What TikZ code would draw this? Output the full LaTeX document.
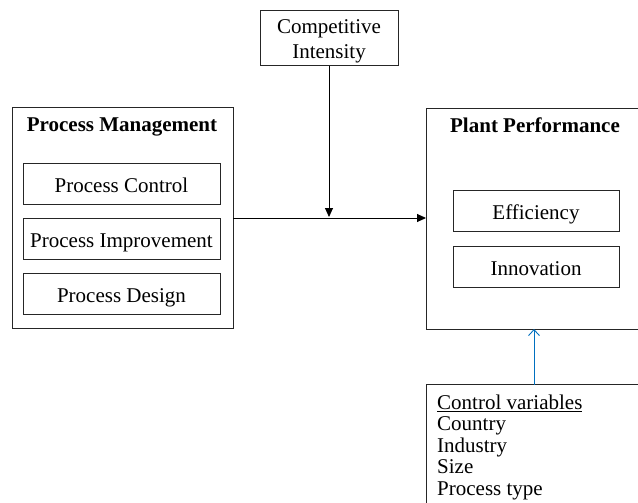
\documentclass[tikz,border=0pt]{standalone}
\usepackage{fontspec}
\setmainfont{Liberation Serif}
\usetikzlibrary{arrows.meta}
\definecolor{ctrlblue}{RGB}{0,112,192}
\tikzset{
  frame/.style={draw=black!85, line width=1pt, inner sep=0pt, outer sep=0pt},
  sub/.style={frame, minimum width=197pt, minimum height=41pt, text height=20pt, text depth=3pt},
  subr/.style={frame, minimum width=166pt, minimum height=41pt, text height=20pt, text depth=3pt},
  conn/.style={line width=0.9pt, -{Triangle[length=9pt,width=8pt]}},
  ctrl/.style={draw=ctrlblue, line width=0.9pt, -{Straight Barb[length=6pt,width=11pt]}},
}
\begin{document}
\begin{tikzpicture}[x=1pt,y=-1pt, font=\fontsize{21}{21.5}\selectfont]
\useasboundingbox (0,0) rectangle (638,503);
\clip (0,0) rectangle (638,503);
\fill[white] (0,0) rectangle (638,503);

% Process Management
\node[frame, minimum width=221pt, minimum height=221pt] (pm) at (122.5,218) {};
\node (pmt) at (122,126.5) {\bfseries Process Management};
\node[sub] (pc) at (121.5,183.5) {Process Control};
\node[sub] (pi) at (121.5,238.5) {Process Improvement};
\node[sub] (pd) at (121.5,293.5) {Process Design};

% Plant Performance
\node[frame, minimum width=214pt, minimum height=220pt] (pp) at (533,219) {};
\node (ppt) at (535,125.5) {\bfseries Plant Performance};
\node[subr] (ef) at (536,211) {Efficiency};
\node[subr] (in) at (536,266.5) {Innovation};

% Competitive Intensity
\node[frame, minimum width=138pt, minimum height=55pt] (ci) at (329,38.5) {};
\node[align=center, inner sep=0pt, font=\fontsize{21}{25}\selectfont] (cit) at (329,41)
  {Competitive\\Intensity};

% Control variables
\node[frame, minimum width=216pt, minimum height=130pt, anchor=north] (cv) at (534,384.5) {};
\node[anchor=north west, inner sep=0pt, align=left] (cvt) at (437,394.5)
  {\underline{Control variables}\\Country\\Industry\\Size\\Process type};

% connectors
\coordinate (mid) at (329,218);
\draw[conn] (pm.east |- mid) -- (pp.west |- mid);
\draw[conn, shorten >=1pt] (ci.south) -- (mid);
\draw[ctrl] (cv.north) -- (cv.north |- pp.south);
\end{tikzpicture}
\end{document}
